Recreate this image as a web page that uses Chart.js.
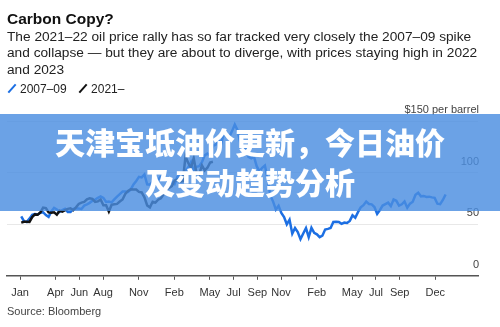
<!DOCTYPE html>
<html>
<head>
<meta charset="utf-8">
<script src="https://cdn.jsdelivr.net/npm/chart.js@4.4.1/dist/chart.umd.min.js"></script>
<style>
  body {
    margin: 0;
    width: 500px;
    height: 327px;
    background: #fff;
    overflow: hidden;
    position: relative;
    font-family: "Liberation Sans", Arial, sans-serif;
  }
  #chart-wrap { position: absolute; left: 0; top: 0; width: 500px; height: 327px; }
  .title {
    position: absolute; left: 7px; top: 9.6px;
    font-size: 15.5px; line-height: 18px; font-weight: bold; color: #111;
  }
  .subtitle {
    position: absolute; left: 7px; top: 28.6px;
    font-size: 13.7px; line-height: 16.7px; color: #222; white-space: nowrap;
  }
  .legend {
    position: absolute; left: 7px; top: 81.5px;
    font-size: 12px; line-height: 14px; color: #222; white-space: nowrap;
  }
  .legend .item { display: inline-block; margin-right: 8px; }
  .legend .swatch {
    display: inline-block; width: 2px; height: 11px; margin: 0 7px -1px 4px;
    transform: rotate(42deg);
  }
  .source {
    position: absolute; left: 7px; top: 304.7px;
    font-size: 11px; line-height: 13px; color: #444;
  }
  .banner {
    position: absolute; left: 0; top: 114px; width: 500px; height: 97px;
    box-sizing: border-box; padding-top: 7.3px;
    background: rgba(74, 142, 224, 0.82);
    color: #fff; text-align: center;
    font-family: "Noto Sans CJK SC", sans-serif; font-weight: 900;
    font-size: 30px; line-height: 40px;
  }
</style>
</head>
<body>
<div id="chart-wrap"><canvas id="oil-chart" width="500" height="327"></canvas></div>

<div class="title">Carbon Copy?</div>
<div class="subtitle">The 2021–22 oil price rally has so far tracked very closely the 2007–09 spike<br>and collapse — but they are about to diverge, with prices staying high in 2022<br>and 2023</div>
<div class="legend">
  <span class="item"><span class="swatch" style="background:#1c6fe3"></span>2007–09</span>
  <span class="item"><span class="swatch" style="background:#111"></span>2021–</span>
</div>
<div class="source">Source: Bloomberg</div>
<div class="banner">天津宝坻油价更新，今日油价<br>及变动趋势分析</div>

<script>
// month positions on the shared time axis (0 = January of the first year)
const monthTicks = [0, 3, 5, 7, 10, 13, 16, 18, 20, 22, 25, 28, 30, 32, 35];
const monthLabels = ['Jan', 'Apr', 'Jun', 'Aug', 'Nov', 'Feb', 'May', 'Jul', 'Sep', 'Nov', 'Feb', 'May', 'Jul', 'Sep', 'Dec'];
const priceTicks = [0, 50, 100, 150];

// weekly WTI closes, $ per barrel, starting first week of January
const oil2007 = [
  // 2007
  57.5, 52.9, 52.0, 55.4,
  59.0, 59.9, 59.4, 61.1,
  61.6, 58.9, 57.1, 62.3, 65.9,
  64.3, 61.9, 63.6, 65.0,
  61.9, 61.9, 64.9, 65.2,
  65.1, 64.8, 68.0, 69.2, 70.7,
  72.8, 73.9, 75.6, 77.0,
  75.5, 71.5, 71.9, 71.1, 74.0,
  76.7, 79.1, 81.6, 81.6,
  81.2, 83.7, 88.6, 91.9,
  95.9, 95.3, 98.2, 88.7,
  88.3, 91.3, 91.4, 93.3, 96.0,
  // 2008
  97.9, 92.7, 90.6, 90.7,
  88.9, 95.5, 98.8, 98.8, 101.8,
  105.2, 110.2, 101.8, 105.6,
  106.2, 110.1, 116.7, 118.5,
  116.3, 125.9, 127.0, 132.2, 127.4,
  138.5, 134.9, 134.6, 140.2,
  146.5, 141.1, 128.9, 123.3,
  125.1, 115.2, 113.8, 115.5,
  106.2, 101.2, 104.6, 106.9,
  93.9, 77.7, 71.9, 64.2, 67.8,
  61.0, 57.0, 49.9, 54.4,
  40.8, 46.3, 42.4, 35.5, 41.0,
  // 2009
  46.3, 37.4, 46.5, 41.7,
  40.2, 37.5, 38.9, 44.8,
  45.5, 46.3, 52.1, 52.4,
  52.2, 50.3, 51.6, 51.2,
  53.2, 58.6, 56.3, 61.7, 66.3,
  68.4, 72.0, 69.6, 69.2,
  66.7, 59.9, 63.6, 68.1, 69.5,
  70.9, 67.5, 73.9, 72.7,
  68.0, 69.3, 72.0, 66.0,
  69.9, 71.8, 78.5, 80.5, 77.0,
  77.4, 76.4, 76.7, 76.0,
  75.5, 69.9, 69.5, 73.5, 78.8
];

const oil2021 = [
  // 2021
  51.5, 52.4, 52.3, 52.2,
  56.9, 59.5, 59.2, 61.5,
  66.1, 65.6, 61.4, 61.0,
  61.5, 59.3, 63.1, 62.1, 63.6,
  64.9, 65.4, 63.6, 66.3,
  69.6, 70.9, 71.6, 74.1,
  75.2, 74.6, 71.6, 72.1, 73.9,
  68.3, 68.4, 62.3, 68.7,
  69.3, 69.7, 72.0, 74.0,
  79.4, 82.3, 83.8, 83.6, 83.6,
  81.3, 80.8, 76.1, 68.2,
  66.3, 71.7, 70.9, 73.8, 75.2,
  // 2022
  78.9, 83.8, 85.1, 86.8,
  92.3, 93.1, 91.1, 91.6,
  115.7, 109.3, 104.7, 113.9,
  99.3, 98.3, 106.9, 102.1, 104.7,
  109.8, 110.5
];

const weeksPerMonth = 52 / 12;
const firstWeek = 0.1;

// weekly series -> {x: month position, y: price}
function weekly(values) {
  return values.map((v, i) => ({ x: firstWeek + i / weeksPerMonth, y: v }));
}

const ctx = document.getElementById('oil-chart').getContext('2d');
new Chart(ctx, {
  type: 'line',
  data: {
    datasets: [
      {
        label: '2007–09',
        data: weekly(oil2007),
        borderColor: '#1c6fe3',
        borderWidth: 2.5,
        pointRadius: 0,
        tension: 0,
        order: 2
      },
      {
        label: '2021–',
        data: weekly(oil2021),
        borderColor: '#111111',
        borderWidth: 2.5,
        pointRadius: 0,
        tension: 0,
        order: 1
      }
    ]
  },
  options: {
    responsive: false,
    animation: false,
    layout: { padding: { left: 7, right: 20, top: 121, bottom: 20 } },
    plugins: {
      legend: { display: false },
      title: { display: false },
      tooltip: { enabled: false }
    },
    scales: {
      x: {
        type: 'linear',
        min: -1.1,
        max: 38.6,
        afterBuildTicks: (scale) => { scale.ticks = monthTicks.map(v => ({ value: v })); },
        ticks: {
          autoSkip: false,
          maxRotation: 0,
          padding: 7,
          color: '#333',
          font: { family: '"Liberation Sans", Arial, sans-serif', size: 11 },
          callback: (value) => monthLabels[monthTicks.indexOf(value)]
        },
        grid: {
          drawOnChartArea: false,
          drawTicks: true,
          tickLength: 4,
          color: '#555',
          lineWidth: 1
        },
        border: { display: true, color: '#555', width: 1.5 }
      },
      y: {
        position: 'right',
        min: 0,
        max: 150,
        afterBuildTicks: (scale) => { scale.ticks = priceTicks.map(v => ({ value: v })); },
        ticks: {
          mirror: true,
          padding: 1,
          labelOffset: -11,
          color: '#444',
          font: { family: '"Liberation Sans", Arial, sans-serif', size: 11 },
          callback: (value) => value === 150 ? '$150 per barrel' : value
        },
        grid: { color: '#e8e8e8', lineWidth: 1, drawTicks: false },
        border: { display: false }
      }
    }
  }
});
</script>
</body>
</html>
